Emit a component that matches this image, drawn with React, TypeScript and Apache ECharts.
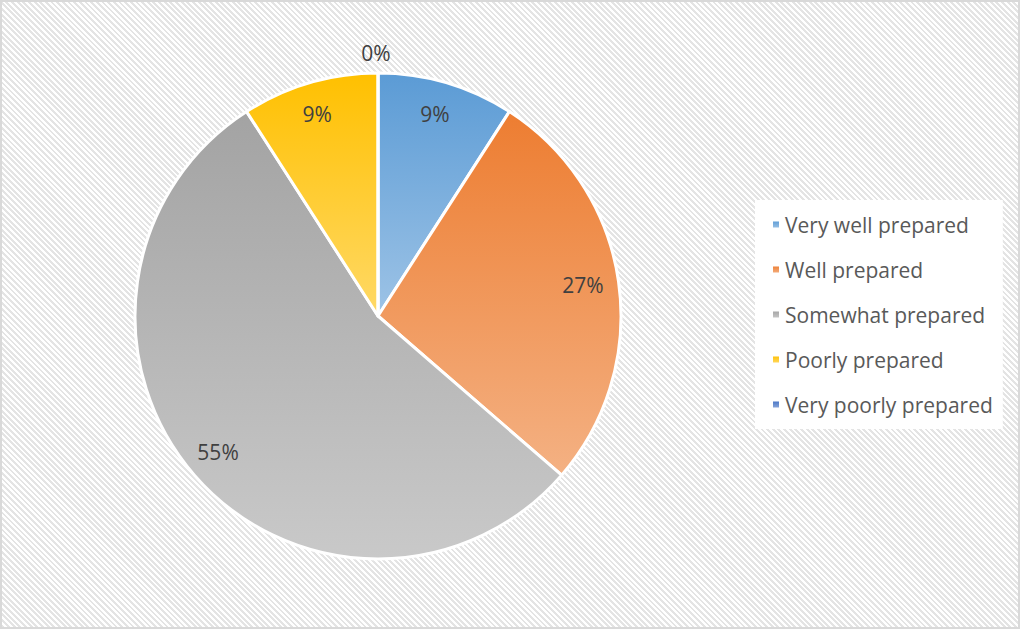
import React, { useEffect, useRef } from "react";
import * as echarts from "echarts";

const categories = [
  "Very well prepared",
  "Well prepared",
  "Somewhat prepared",
  "Poorly prepared",
  "Very poorly prepared",
];
const values = [1, 3, 6, 1, 0];
const percentLabels = ["9%", "27%", "55%", "9%", "0%"];
const topColors = ["#5B9BD5", "#ED7D31", "#A3A3A3", "#FFC000", "#4472C4"];
const bottomColors = ["#9DC3E6", "#F4B183", "#C9C9C9", "#FFD966", "#8FAADC"];

const CX = 378;
const CY = 316;
const R = 243;

export default function App() {
  const ref = useRef<HTMLDivElement>(null);
  useEffect(() => {
    if (!ref.current) return;
    const chart = echarts.init(ref.current, null, { renderer: "svg" });
    const total = values.reduce((a, b) => a + b, 0);
    const cum: number[] = [];
    let acc = 0;
    values.forEach((v) => {
      cum.push(acc);
      acc += v;
    });
    chart.setOption({
      animation: false,
      backgroundColor: "transparent",
      legend: {
        orient: "vertical",
        left: 755,
        top: 200,
        backgroundColor: "#ffffff",
        padding: [14, 10, 14, 16],
        itemWidth: 8,
        itemHeight: 8,
        itemGap: 24,
        icon: "rect",
        textStyle: {
          fontFamily: "Open Sans",
          fontSize: 21,
          color: "#595959",
        },
        data: categories,
      },
      series: [
        {
          type: "pie",
          center: [CX, CY],
          radius: [0, R],
          startAngle: 90,
          clockwise: true,
          avoidLabelOverlap: false,
          itemStyle: { borderColor: "#ffffff", borderWidth: 3 },
          label: {
            show: true,
            position: "inside",
            fontFamily: "Open Sans",
            fontSize: 21,
            color: "#404040",
            formatter: (p: any) => percentLabels[p.dataIndex],
          },
          labelLine: { show: false },
          labelLayout: (p: any) => {
            const i = p.dataIndex;
            const mid = ((cum[i] + values[i] / 2) / total) * Math.PI * 2;
            const r = values[i] === 0 ? 262 : 209;
            return {
              x: CX + r * Math.sin(mid) - 2,
              y: CY - r * Math.cos(mid) - 1,
              align: "center",
              verticalAlign: "middle",
            };
          },
          data: categories.map((name, i) => ({
            name,
            value: values[i],
            itemStyle: {
              color: new echarts.graphic.LinearGradient(0, 0, 0, 1, [
                { offset: 0, color: topColors[i] },
                { offset: 1, color: bottomColors[i] },
              ]),
            },
          })),
        },
      ],
    });
    return () => chart.dispose();
  }, []);
  return (
    <div
      style={{
        position: "fixed",
        left: 0,
        top: 0,
        width: 1020,
        height: 629,
        boxSizing: "border-box",
        border: "2px solid #d9d9d9",
        background:
          "repeating-linear-gradient(45deg, #e4e4e4 0px, #e4e4e4 2px, #ffffff 2px, #ffffff 4px)",
      }}
    >
      <div
        ref={ref}
        style={{ position: "absolute", left: -2, top: -2, width: 1020, height: 629 }}
      />
    </div>
  );
}
